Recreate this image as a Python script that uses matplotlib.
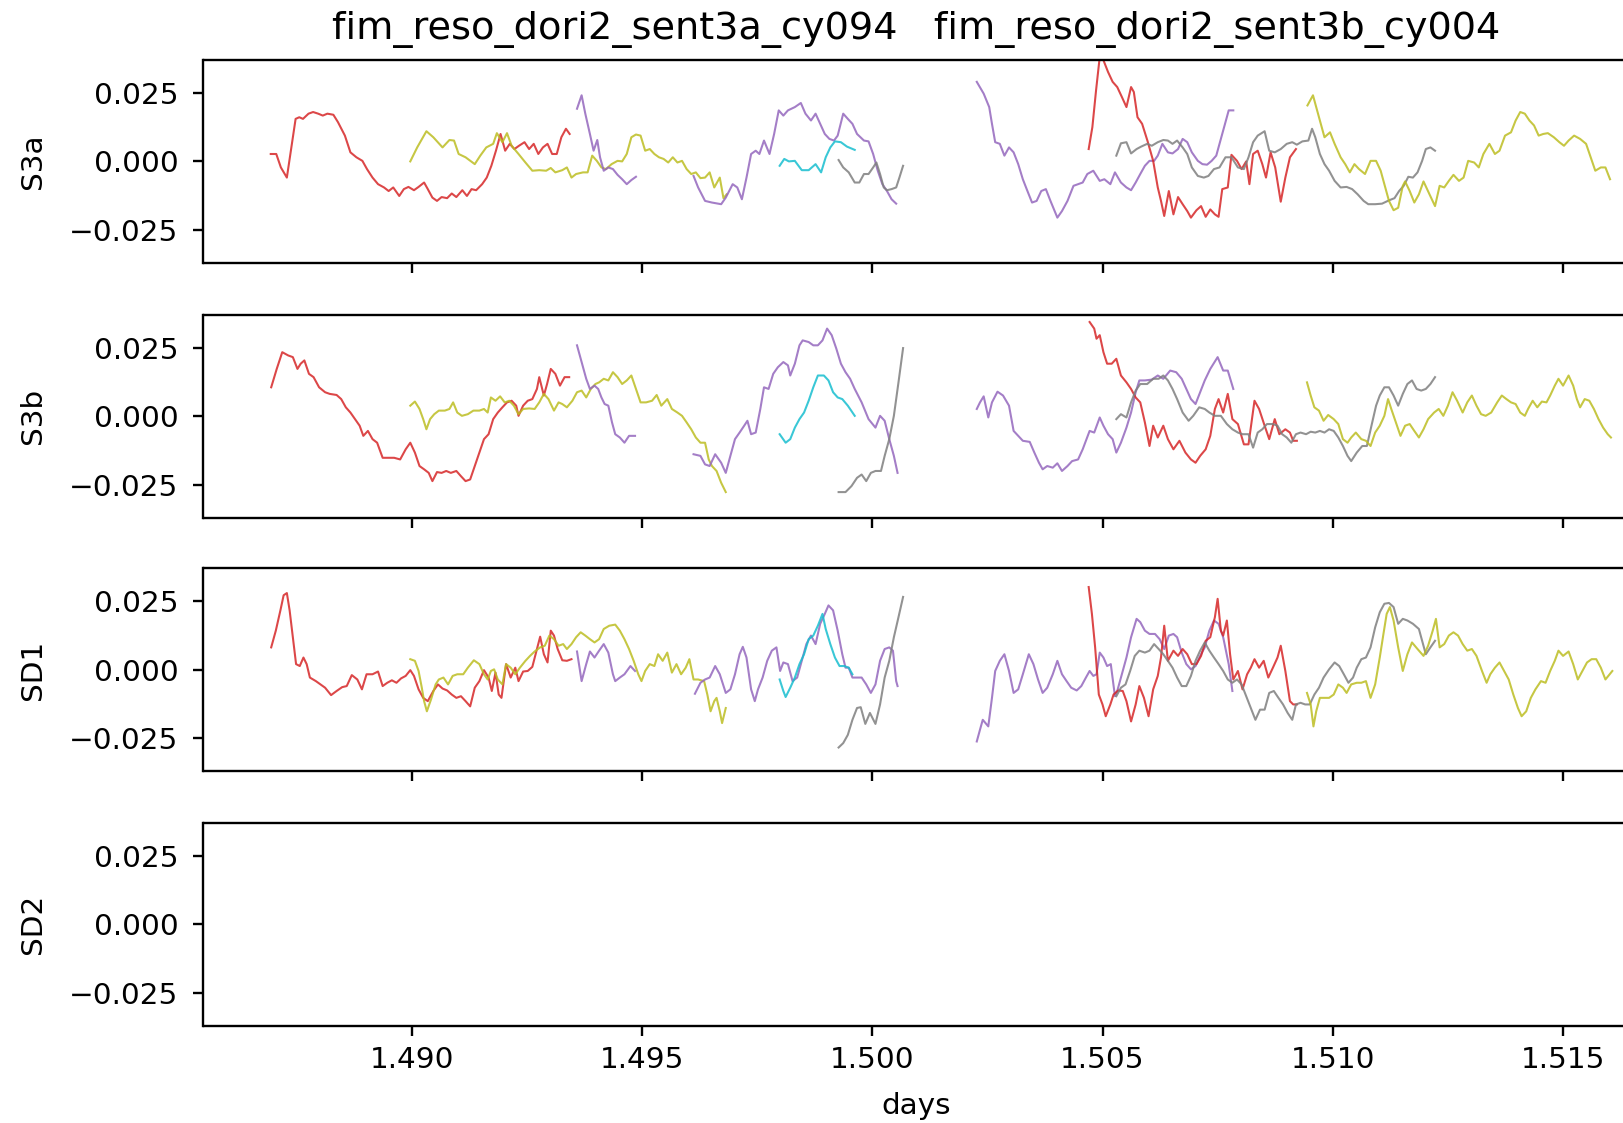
import matplotlib
matplotlib.use("Agg")
import matplotlib.pyplot as plt
import numpy as np

# ---------------- data (x in days, y in units of 1e-3) ----------------
TITLE = "fim_reso_dori2_sent3a_cy094   fim_reso_dori2_sent3b_cy004"
PANEL_LABELS = ["S3a", "S3b", "SD1", "SD2"]
XTICKS = [1.490, 1.495, 1.500, 1.505, 1.510, 1.515]
YTICKS = [-0.025, 0.0, 0.025]

# ---- S3a ----
S3A_RED1 = [(1.48694, 2.7), (1.48706, 2.7), (1.48716, -2.2), (1.48729, -5.9), (1.48741, 7.6), (1.48748, 15.5),
            (1.48756, 16.1), (1.48764, 15.5), (1.48776, 17.4), (1.48786, 18.0), (1.48797, 17.4), (1.48807, 16.7),
            (1.48817, 17.4), (1.48830, 17.0), (1.48840, 14.3), (1.48855, 9.4), (1.48867, 3.3), (1.48880, 1.5),
            (1.48893, 0.2), (1.48903, -2.8), (1.48915, -5.9), (1.48927, -8.3), (1.48940, -9.5), (1.48950, -10.8),
            (1.48960, -9.5), (1.48973, -12.6), (1.48983, -10.1), (1.48993, -9.3), (1.49005, -10.5), (1.49015, -9.3),
            (1.49027, -7.7), (1.49035, -10.1), (1.49045, -13.2), (1.49055, -14.4), (1.49065, -13.0), (1.49077, -13.4),
            (1.49087, -11.7), (1.49097, -13.0), (1.49110, -10.5), (1.49120, -12.6), (1.49130, -10.1), (1.49140, -10.5),
            (1.49153, -8.3), (1.49163, -5.9), (1.49173, -1.6), (1.49183, 3.9), (1.49193, 10.0), (1.49203, 3.9),
            (1.49213, 6.4), (1.49223, 4.5), (1.49233, 5.7), (1.49245, 7.0), (1.49255, 4.5), (1.49265, 6.4),
            (1.49275, 2.7), (1.49285, 5.1), (1.49295, 6.4), (1.49305, 2.7), (1.49315, 2.7), (1.49325, 8.8),
            (1.49335, 11.9), (1.49343, 10.0)]
S3A_OLIVE1 = [(1.48997, 0.0), (1.49012, 5.1), (1.49032, 11.0), (1.49047, 8.8), (1.49067, 5.1), (1.49082, 7.8),
              (1.49092, 7.6), (1.49102, 2.7), (1.49117, 1.5), (1.49137, -1.0), (1.49149, 2.1), (1.49162, 5.1),
              (1.49177, 6.4), (1.49185, 10.3), (1.49197, 7.0), (1.49207, 10.3), (1.49217, 5.7), (1.49232, 2.7),
              (1.49247, -0.4), (1.49262, -3.4), (1.49277, -3.2), (1.49292, -3.4), (1.49302, -2.4), (1.49312, -4.0),
              (1.49327, -3.2), (1.49337, -2.2), (1.49347, -5.9), (1.49357, -4.6), (1.49372, -4.0), (1.49382, -4.0),
              (1.49392, 2.1), (1.49402, 0.2), (1.49412, -2.2), (1.49422, -2.8), (1.49434, -1.0), (1.49447, 0.2),
              (1.49457, 0.0), (1.49467, 2.7), (1.49477, 8.8), (1.49487, 9.8), (1.49497, 9.4), (1.49507, 3.9),
              (1.49517, 4.5), (1.49527, 2.7), (1.49537, 1.5), (1.49547, 0.9), (1.49557, -0.4), (1.49567, 1.5),
              (1.49577, -0.4), (1.49587, 0.2), (1.49597, -2.8), (1.49607, -4.6), (1.49617, -4.0), (1.49627, -6.1),
              (1.49637, -5.9), (1.49647, -4.0), (1.49657, -9.5), (1.49669, -5.9), (1.49677, -13.4), (1.49684, -12.0)]
S3A_PURPLE1 = [(1.49359, 19.2), (1.49369, 24.1), (1.49377, 17.4), (1.49387, 10.0), (1.49395, 3.9), (1.49403, 7.8),
               (1.49409, 1.5), (1.49417, -3.4), (1.49427, -2.2), (1.49437, -2.8), (1.49447, -4.9), (1.49457, -6.5),
               (1.49467, -8.3), (1.49477, -6.8), (1.49487, -5.6)]
S3A_PURPLE2 = [(1.49612, -5.3), (1.49622, -9.5), (1.49637, -14.4), (1.49652, -15.0), (1.49672, -15.6),
               (1.49682, -13.2), (1.49697, -8.3), (1.49707, -9.5), (1.49717, -13.8), (1.49727, -5.9),
               (1.49737, 2.7), (1.49747, 3.9), (1.49755, 2.7), (1.49765, 7.6), (1.49777, 2.7), (1.49787, 10.0),
               (1.49797, 18.6), (1.49807, 16.7), (1.49817, 18.6), (1.49832, 19.8), (1.49845, 21.3), (1.49855, 17.4),
               (1.49867, 14.9), (1.49877, 17.4), (1.49887, 13.7), (1.49897, 10.0), (1.49907, 8.2), (1.49917, 7.6),
               (1.49925, 9.4), (1.49937, 17.4), (1.49947, 15.5), (1.49957, 13.7), (1.49967, 10.0), (1.49982, 7.6),
               (1.49992, 7.3), (1.50002, 2.7), (1.50012, -3.4), (1.50022, -8.3), (1.50032, -10.8), (1.50042, -13.8),
               (1.50052, -15.4)]
S3A_CYAN = [(1.49799, -1.6), (1.49809, 0.9), (1.49819, 0.0), (1.49832, 0.2), (1.49847, -3.2), (1.49862, -3.2),
            (1.49877, -1.0), (1.49889, -4.0), (1.49899, 1.5), (1.49909, 5.1), (1.49919, 7.3), (1.49932, 7.0),
            (1.49945, 5.4), (1.49962, 4.2)]
S3A_GRAY1 = [(1.49927, 0.5), (1.49937, -2.2), (1.49949, -4.0), (1.49962, -7.7), (1.49972, -7.7), (1.49982, -4.6),
             (1.49992, -4.6), (1.50002, -2.2), (1.50009, -0.4), (1.50017, -4.6), (1.50025, -9.5), (1.50032, -10.5),
             (1.50042, -10.1), (1.50052, -9.5), (1.50059, -5.9), (1.50067, -1.6)]
S3A_PURPLE3 = [(1.50227, 29.0), (1.50242, 24.7), (1.50254, 19.8), (1.50260, 13.7), (1.50267, 7.0), (1.50277, 6.4),
               (1.50287, 2.1), (1.50297, 5.1), (1.50307, 3.3), (1.50317, -1.0), (1.50327, -6.5), (1.50337, -10.8),
               (1.50347, -15.0), (1.50357, -14.4), (1.50367, -10.8), (1.50377, -10.1), (1.50387, -14.4),
               (1.50402, -20.5), (1.50412, -18.1), (1.50424, -14.4), (1.50437, -8.9), (1.50447, -8.3),
               (1.50457, -7.7), (1.50467, -4.6), (1.50480, -3.4), (1.50494, -7.1), (1.50504, -6.5), (1.50517, -8.3),
               (1.50527, -4.0), (1.50540, -7.7), (1.50552, -9.5), (1.50562, -10.5), (1.50572, -7.7), (1.50582, -4.6),
               (1.50592, -1.6), (1.50602, 0.2), (1.50612, 0.2), (1.50620, 2.1), (1.50630, 6.4), (1.50642, 3.3),
               (1.50652, 2.9), (1.50664, 4.5), (1.50674, 8.2), (1.50684, 7.0), (1.50694, 3.3), (1.50707, 0.2),
               (1.50717, -1.0), (1.50727, -1.2), (1.50737, 0.2), (1.50747, 2.1), (1.50757, 8.2), (1.50767, 14.3),
               (1.50774, 18.6), (1.50784, 18.6)]
S3A_RED2 = [(1.50470, 4.5), (1.50478, 12.5), (1.50486, 25.9), (1.50494, 38.1), (1.50502, 36.9), (1.50512, 32.6),
            (1.50522, 29.0), (1.50532, 27.1), (1.50542, 23.5), (1.50552, 19.8), (1.50562, 27.1), (1.50568, 25.3),
            (1.50576, 16.1), (1.50586, 13.7), (1.50598, 7.3), (1.50610, 0.2), (1.50620, -9.5), (1.50627, -14.4),
            (1.50634, -19.9), (1.50644, -10.8), (1.50654, -19.3), (1.50664, -13.0), (1.50674, -15.6),
            (1.50684, -18.1), (1.50692, -20.5), (1.50704, -17.8), (1.50714, -16.3), (1.50724, -20.2),
            (1.50734, -17.5), (1.50744, -19.3), (1.50752, -20.2), (1.50760, -10.1), (1.50772, -9.5), (1.50780, 2.4),
            (1.50792, 0.2), (1.50802, -2.8), (1.50812, 0.0), (1.50819, -8.3), (1.50827, 2.7), (1.50837, 3.9),
            (1.50847, -1.0), (1.50855, -5.9), (1.50865, 3.3), (1.50875, -2.2), (1.50887, -14.7), (1.50897, -5.9),
            (1.50907, 1.5), (1.50920, 4.5)]
S3A_GRAY2 = [(1.50530, 2.1), (1.50540, 6.6), (1.50552, 7.0), (1.50562, 2.9), (1.50574, 4.5), (1.50584, 5.4),
             (1.50597, 6.4), (1.50607, 5.7), (1.50620, 7.0), (1.50632, 7.8), (1.50642, 7.6), (1.50652, 6.4),
             (1.50662, 7.6), (1.50674, 5.1), (1.50684, 2.7), (1.50694, -2.2), (1.50707, -5.3), (1.50720, -5.9),
             (1.50730, -5.3), (1.50742, -2.8), (1.50754, -2.2), (1.50767, 1.5), (1.50780, 1.5), (1.50794, -2.2),
             (1.50807, -2.8), (1.50817, 1.5), (1.50827, 7.0), (1.50837, 9.4), (1.50852, 11.0), (1.50862, 3.9),
             (1.50874, 3.3), (1.50887, 4.5), (1.50900, 6.4), (1.50912, 7.0), (1.50922, 6.1), (1.50934, 7.3),
             (1.50947, 7.6), (1.50955, 11.9), (1.50962, 8.8), (1.50972, 2.7), (1.50982, -1.0), (1.50992, -3.4),
             (1.51004, -7.1), (1.51017, -9.5), (1.51030, -9.3), (1.51042, -10.1), (1.51054, -12.0),
             (1.51067, -14.4), (1.51077, -15.6), (1.51092, -15.6), (1.51107, -15.4), (1.51122, -14.2),
             (1.51134, -13.4), (1.51144, -10.8), (1.51154, -8.9), (1.51164, -5.6), (1.51174, -5.9), (1.51184, -4.0),
             (1.51194, 0.2), (1.51202, 4.5), (1.51212, 5.1), (1.51222, 3.9)]
S3A_OLIVE2 = [(1.50945, 20.4), (1.50957, 24.1), (1.50964, 19.8), (1.50972, 14.9), (1.50982, 8.8), (1.50994, 10.6),
              (1.51004, 6.4), (1.51017, 1.5), (1.51027, -1.0), (1.51037, -4.0), (1.51047, -1.0), (1.51057, -2.8),
              (1.51070, -4.6), (1.51082, 0.2), (1.51094, 0.2), (1.51104, -3.4), (1.51112, -8.3), (1.51122, -14.4),
              (1.51132, -17.8), (1.51142, -16.9), (1.51152, -8.9), (1.51157, -7.3), (1.51167, -10.8),
              (1.51177, -15.0), (1.51187, -12.0), (1.51197, -7.3), (1.51210, -12.0), (1.51222, -16.3),
              (1.51232, -8.9), (1.51242, -9.5), (1.51252, -7.1), (1.51262, -4.9), (1.51274, -7.1), (1.51284, -5.9),
              (1.51294, 0.2), (1.51307, -0.4), (1.51317, -2.2), (1.51327, 2.7), (1.51340, 6.4), (1.51352, 2.7),
              (1.51362, 3.9), (1.51374, 9.4), (1.51387, 10.6), (1.51397, 14.9), (1.51407, 18.0), (1.51417, 17.4),
              (1.51427, 14.9), (1.51437, 13.1), (1.51447, 9.4), (1.51457, 10.0), (1.51467, 10.3), (1.51480, 8.8),
              (1.51492, 7.0), (1.51502, 5.7), (1.51512, 7.6), (1.51524, 9.4), (1.51537, 8.2), (1.51550, 6.4),
              (1.51560, 1.5), (1.51570, -3.4), (1.51582, -2.2), (1.51592, -2.2), (1.51602, -6.5)]

# ---- S3b ----
S3B_RED1 = [(1.48695, 10.5), (1.48707, 17.2), (1.48719, 23.3), (1.48732, 22.1), (1.48742, 21.5), (1.48752, 17.2),
            (1.48759, 19.1), (1.48767, 20.3), (1.48777, 15.4), (1.48787, 14.2), (1.48799, 10.5), (1.48812, 8.7),
            (1.48822, 8.1), (1.48837, 7.7), (1.48847, 6.2), (1.48857, 3.2), (1.48867, 1.3), (1.48877, -1.1),
            (1.48887, -3.5), (1.48895, -7.2), (1.48905, -5.4), (1.48915, -8.4), (1.48925, -9.7), (1.48937, -15.2),
            (1.48949, -15.2), (1.48962, -15.2), (1.48975, -15.8), (1.48987, -12.1), (1.48997, -9.7),
            (1.49007, -13.3), (1.49017, -18.2), (1.49027, -19.4), (1.49037, -20.7), (1.49045, -23.7),
            (1.49055, -20.4), (1.49065, -20.7), (1.49075, -20.0), (1.49085, -20.7), (1.49097, -20.0),
            (1.49107, -21.9), (1.49117, -23.7), (1.49127, -23.1), (1.49137, -18.2), (1.49147, -13.3),
            (1.49157, -8.4), (1.49167, -6.6), (1.49177, -1.1), (1.49187, 1.3), (1.49197, 3.2), (1.49207, 5.0),
            (1.49217, 5.6), (1.49227, 3.8), (1.49232, 0.1), (1.49242, 3.8), (1.49252, 5.6), (1.49262, 6.2),
            (1.49272, 9.9), (1.49277, 14.2), (1.49287, 7.5), (1.49294, 11.7), (1.49302, 17.2), (1.49312, 15.4),
            (1.49322, 11.1), (1.49332, 14.2), (1.49342, 14.2)]
S3B_OLIVE1 = [(1.48997, 3.8), (1.49007, 5.3), (1.49017, 2.6), (1.49025, -1.1), (1.49032, -4.8), (1.49040, -1.1),
              (1.49049, 0.7), (1.49059, 2.0), (1.49072, 2.0), (1.49082, 2.6), (1.49090, 5.0), (1.49099, 1.3),
              (1.49109, 0.1), (1.49122, 0.7), (1.49134, 2.0), (1.49147, 2.0), (1.49157, 2.6), (1.49165, 1.3),
              (1.49172, 6.8), (1.49182, 5.6), (1.49192, 7.2), (1.49202, 5.0), (1.49212, 5.6), (1.49222, 3.8),
              (1.49232, 0.7), (1.49242, 2.6), (1.49255, 2.8), (1.49267, 2.6), (1.49277, 5.0), (1.49287, 8.1),
              (1.49297, 6.2), (1.49309, 2.0), (1.49319, 5.0), (1.49327, 4.4), (1.49337, 3.2), (1.49349, 5.6),
              (1.49359, 8.7), (1.49369, 9.3), (1.49379, 6.8), (1.49389, 9.9), (1.49399, 11.7), (1.49407, 12.3),
              (1.49417, 13.6), (1.49427, 13.0), (1.49437, 16.0), (1.49447, 14.2), (1.49457, 11.7), (1.49467, 13.0),
              (1.49477, 14.8), (1.49487, 9.9), (1.49497, 5.0), (1.49509, 5.0), (1.49522, 5.6), (1.49532, 7.7),
              (1.49542, 3.8), (1.49555, 6.2), (1.49565, 2.6), (1.49577, 1.3), (1.49587, 0.1), (1.49597, -2.3),
              (1.49607, -4.8), (1.49617, -7.8), (1.49627, -9.7), (1.49637, -9.7), (1.49645, -15.8),
              (1.49652, -18.2), (1.49662, -20.0), (1.49672, -24.3), (1.49682, -27.7)]
S3B_PURPLE1 = [(1.49359, 25.8), (1.49369, 19.7), (1.49379, 13.6), (1.49387, 9.9), (1.49397, 11.1), (1.49405, 9.9),
               (1.49412, 6.8), (1.49419, 4.4), (1.49427, 3.8), (1.49435, -2.3), (1.49442, -6.6), (1.49452, -7.8),
               (1.49462, -9.7), (1.49472, -7.2), (1.49485, -7.2)]
S3B_PURPLE2 = [(1.49612, -13.9), (1.49627, -14.5), (1.49637, -17.6), (1.49647, -18.2), (1.49659, -13.9),
               (1.49672, -17.0), (1.49682, -20.7), (1.49692, -14.5), (1.49702, -8.4), (1.49712, -6.0),
               (1.49722, -3.5), (1.49729, -1.7), (1.49737, -6.6), (1.49747, -6.0), (1.49757, 2.6), (1.49765, 10.5),
               (1.49775, 9.9), (1.49785, 15.4), (1.49795, 17.8), (1.49807, 19.7), (1.49817, 18.5), (1.49822, 14.8),
               (1.49832, 19.1), (1.49842, 25.8), (1.49849, 27.6), (1.49862, 27.0), (1.49872, 25.8), (1.49882, 25.8),
               (1.49892, 27.6), (1.49902, 31.9), (1.49912, 29.5), (1.49922, 24.6), (1.49932, 19.1), (1.49942, 16.0),
               (1.49952, 13.6), (1.49962, 9.9), (1.49977, 5.0), (1.49992, -1.1), (1.50007, -4.2), (1.50017, 0.1),
               (1.50027, -1.7), (1.50037, -8.4), (1.50047, -14.5), (1.50055, -20.7)]
S3B_CYAN = [(1.49799, -6.6), (1.49812, -9.7), (1.49822, -8.4), (1.49832, -4.2), (1.49842, -1.1), (1.49852, 1.3),
            (1.49862, 5.6), (1.49872, 10.5), (1.49882, 14.8), (1.49895, 14.8), (1.49905, 13.0), (1.49915, 8.7),
            (1.49925, 6.8), (1.49935, 6.2), (1.49947, 3.8), (1.49962, 0.1)]
S3B_GRAY1 = [(1.49927, -27.7), (1.49942, -27.7), (1.49955, -25.5), (1.49967, -22.5), (1.49977, -21.3),
             (1.49987, -23.7), (1.49997, -20.7), (1.50007, -20.0), (1.50019, -20.0), (1.50027, -14.5),
             (1.50037, -8.4), (1.50047, 0.1), (1.50057, 12.3), (1.50067, 24.8)]
S3B_PURPLE3 = [(1.50227, 2.6), (1.50234, 5.0), (1.50242, 7.2), (1.50252, -0.5), (1.50260, 5.0), (1.50272, 8.9),
               (1.50284, 7.5), (1.50297, 3.8), (1.50307, -5.4), (1.50317, -7.2), (1.50327, -9.0), (1.50342, -9.4),
               (1.50352, -13.3), (1.50362, -17.0), (1.50370, -19.4), (1.50380, -18.2), (1.50392, -18.8),
               (1.50402, -17.2), (1.50412, -20.0), (1.50424, -18.2), (1.50434, -16.4), (1.50447, -15.8),
               (1.50457, -12.1), (1.50472, -5.4), (1.50482, -6.0), (1.50494, -0.5), (1.50502, -3.5), (1.50512, -6.6),
               (1.50522, -8.4), (1.50530, -13.3), (1.50540, -9.7), (1.50552, -4.2), (1.50562, 1.3), (1.50572, 8.7),
               (1.50580, 13.0), (1.50592, 13.0), (1.50607, 13.3), (1.50620, 14.8), (1.50632, 13.6), (1.50647, 16.6),
               (1.50660, 16.0), (1.50672, 13.6), (1.50682, 9.9), (1.50692, 6.2), (1.50702, 4.4), (1.50712, 8.7),
               (1.50722, 13.0), (1.50734, 17.2), (1.50750, 21.5), (1.50762, 16.6), (1.50772, 16.6), (1.50784, 9.9)]
S3B_RED2 = [(1.50472, 34.3), (1.50482, 31.9), (1.50487, 28.2), (1.50494, 29.5), (1.50502, 23.3), (1.50510, 19.1),
            (1.50520, 19.1), (1.50530, 20.9), (1.50540, 14.8), (1.50552, 12.3), (1.50562, 9.9), (1.50572, 6.8),
            (1.50582, 5.0), (1.50592, -2.3), (1.50602, -10.9), (1.50610, -3.5), (1.50620, -7.8), (1.50632, -3.5),
            (1.50642, -8.4), (1.50654, -12.1), (1.50667, -9.0), (1.50680, -13.3), (1.50692, -15.8),
            (1.50702, -17.0), (1.50712, -14.5), (1.50724, -12.1), (1.50734, -7.2), (1.50744, 2.6), (1.50752, 6.2),
            (1.50762, 1.3), (1.50772, 8.1), (1.50782, -1.1), (1.50794, -2.9), (1.50807, -10.3), (1.50817, -10.3),
            (1.50830, 5.6), (1.50840, 2.6), (1.50852, -3.5), (1.50862, -8.4), (1.50874, -1.1), (1.50884, -6.6),
            (1.50897, -4.8), (1.50907, -6.0), (1.50914, -9.0), (1.50922, -9.0)]
S3B_GRAY2 = [(1.50530, -1.1), (1.50540, 0.7), (1.50552, -0.5), (1.50562, 5.0), (1.50572, 9.3), (1.50582, 11.7),
             (1.50597, 11.7), (1.50610, 13.6), (1.50622, 13.6), (1.50632, 14.8), (1.50642, 13.0), (1.50652, 9.9),
             (1.50662, 6.2), (1.50674, 1.3), (1.50687, -1.7), (1.50697, 0.1), (1.50710, 3.2), (1.50722, 2.6),
             (1.50732, 1.3), (1.50744, 0.1), (1.50757, 0.1), (1.50770, -2.9), (1.50782, -4.8), (1.50794, -6.0),
             (1.50804, -6.6), (1.50817, -6.6), (1.50827, -11.5), (1.50837, -6.0), (1.50847, -4.8), (1.50857, -2.9),
             (1.50870, -2.9), (1.50880, -3.5), (1.50890, -6.6), (1.50900, -7.8), (1.50910, -9.7), (1.50920, -6.6),
             (1.50930, -6.0), (1.50942, -6.6), (1.50952, -5.7), (1.50962, -6.0), (1.50972, -5.4), (1.50982, -6.0),
             (1.50992, -4.8), (1.51002, -5.4), (1.51012, -7.8), (1.51022, -10.9), (1.51032, -14.5),
             (1.51040, -16.4), (1.51052, -13.3), (1.51064, -10.9), (1.51074, -10.9), (1.51084, -3.5),
             (1.51094, 3.8), (1.51102, 7.5), (1.51112, 10.5), (1.51122, 10.5), (1.51132, 7.5), (1.51142, 3.8),
             (1.51152, 8.1), (1.51162, 11.7), (1.51172, 13.0), (1.51182, 9.9), (1.51192, 9.3), (1.51202, 9.9),
             (1.51212, 11.7), (1.51222, 14.2)]
S3B_OLIVE2 = [(1.50944, 12.3), (1.50952, 7.5), (1.50960, 3.2), (1.50970, 2.0), (1.50980, -1.7), (1.50990, 0.4),
              (1.51002, -1.1), (1.51012, -2.9), (1.51022, -8.4), (1.51032, -9.7), (1.51040, -7.8), (1.51050, -6.0),
              (1.51062, -8.4), (1.51072, -9.0), (1.51082, -10.9), (1.51092, -6.0), (1.51102, -3.5), (1.51112, 0.1),
              (1.51120, 6.2), (1.51127, 2.6), (1.51137, -2.3), (1.51147, -7.2), (1.51157, -3.5), (1.51167, -2.9),
              (1.51177, -5.4), (1.51187, -7.8), (1.51197, -4.8), (1.51207, -1.1), (1.51220, 1.3), (1.51230, 2.6),
              (1.51240, 0.1), (1.51250, 3.8), (1.51260, 8.7), (1.51270, 5.6), (1.51282, 1.3), (1.51292, 5.0),
              (1.51302, 7.5), (1.51312, 3.8), (1.51322, 0.7), (1.51332, 0.1), (1.51344, 1.3), (1.51357, 5.0),
              (1.51367, 7.5), (1.51377, 6.2), (1.51387, 5.0), (1.51397, 4.4), (1.51407, 1.3), (1.51417, 0.1),
              (1.51424, 2.6), (1.51434, 5.6), (1.51444, 3.2), (1.51454, 5.3), (1.51464, 5.0), (1.51472, 7.5),
              (1.51482, 11.1), (1.51490, 13.6), (1.51500, 11.1), (1.51512, 14.8), (1.51522, 11.1), (1.51530, 6.2),
              (1.51537, 3.2), (1.51547, 6.2), (1.51557, 5.6), (1.51567, 2.6), (1.51577, -1.1), (1.51587, -4.2),
              (1.51597, -6.6), (1.51604, -7.8)]

# ---- SD1 ----
SD1_RED1 = [(1.48695, 8.1), (1.48705, 14.2), (1.48715, 21.6), (1.48722, 27.1), (1.48729, 27.9), (1.48735, 21.6),
            (1.48742, 11.8), (1.48749, 2.0), (1.48757, 1.3), (1.48765, 4.4), (1.48772, 2.0), (1.48779, -2.9),
            (1.48792, -4.2), (1.48802, -5.4), (1.48812, -6.6), (1.48825, -9.3), (1.48837, -7.8), (1.48849, -6.4),
            (1.48859, -6.0), (1.48870, -2.0), (1.48882, -3.6), (1.48892, -7.2), (1.48902, -1.7), (1.48915, -1.7),
            (1.48927, -0.7), (1.48937, -6.0), (1.48947, -4.8), (1.48957, -3.9), (1.48967, -4.8), (1.48977, -3.2),
            (1.48987, -2.3), (1.48997, -0.2), (1.49005, -2.3), (1.49015, -7.2), (1.49025, -10.3), (1.49035, -11.5),
            (1.49047, -7.8), (1.49057, -5.4), (1.49067, -6.9), (1.49077, -7.6), (1.49087, -9.1), (1.49097, -10.3),
            (1.49107, -9.7), (1.49117, -11.5), (1.49127, -13.4), (1.49137, -6.6), (1.49147, -4.2), (1.49157, -0.2),
            (1.49167, -2.9), (1.49174, -7.8), (1.49182, -1.1), (1.49189, -9.1), (1.49195, -10.3), (1.49205, 2.0),
            (1.49215, -2.9), (1.49225, 0.7), (1.49232, -4.2), (1.49242, -0.7), (1.49252, -0.5), (1.49262, 1.0),
            (1.49272, 7.5), (1.49279, 12.0), (1.49287, 5.6), (1.49295, 2.6), (1.49302, 14.2), (1.49309, 12.4),
            (1.49317, 7.5), (1.49327, 3.4), (1.49337, 3.2), (1.49347, 3.8)]
SD1_OLIVE1 = [(1.48997, 3.8), (1.49007, 3.2), (1.49015, -0.5), (1.49022, -6.6), (1.49027, -11.5), (1.49033, -15.2),
              (1.49042, -10.9), (1.49052, -5.4), (1.49059, -3.6), (1.49069, -2.9), (1.49079, -5.4), (1.49089, -2.3),
              (1.49099, -1.7), (1.49112, -1.7), (1.49122, 0.7), (1.49135, 3.4), (1.49147, 2.0), (1.49157, -1.7),
              (1.49165, -3.6), (1.49172, -0.5), (1.49179, 0.1), (1.49187, -3.6), (1.49197, -5.4), (1.49205, 2.0),
              (1.49215, 0.7), (1.49225, -1.7), (1.49235, 0.7), (1.49247, 3.2), (1.49257, 5.0), (1.49267, 6.6),
              (1.49279, 8.1), (1.49289, 8.7), (1.49299, 12.4), (1.49309, 11.1), (1.49319, 8.7), (1.49329, 9.3),
              (1.49337, 7.5), (1.49347, 9.3), (1.49357, 11.8), (1.49367, 13.6), (1.49377, 12.4), (1.49387, 11.1),
              (1.49397, 9.9), (1.49407, 11.1), (1.49417, 14.8), (1.49429, 16.0), (1.49442, 16.4), (1.49452, 14.2),
              (1.49462, 11.1), (1.49472, 7.5), (1.49482, 3.2), (1.49492, -1.7), (1.49499, -4.2), (1.49507, -0.5),
              (1.49517, 2.0), (1.49527, 1.3), (1.49535, 5.6), (1.49545, 3.2), (1.49555, 6.2), (1.49565, -1.1),
              (1.49575, 2.0), (1.49585, -1.7), (1.49595, 0.7), (1.49603, 3.8), (1.49612, -3.6), (1.49622, -3.6),
              (1.49635, -4.2), (1.49642, -9.1), (1.49649, -15.2), (1.49657, -11.5), (1.49662, -10.3),
              (1.49669, -15.2), (1.49674, -19.5), (1.49682, -14.0)]
SD1_PURPLE1 = [(1.49359, 6.6), (1.49369, -4.2), (1.49379, 2.0), (1.49387, 6.6), (1.49397, 4.4), (1.49407, 6.9),
               (1.49417, 9.3), (1.49427, 6.2), (1.49437, -1.7), (1.49442, -4.2), (1.49452, -2.9), (1.49462, -1.7),
               (1.49475, 1.3), (1.49485, -0.5)]
SD1_PURPLE2 = [(1.49615, -8.8), (1.49627, -4.8), (1.49637, -3.6), (1.49647, -2.9), (1.49659, 1.3), (1.49669, -1.7),
               (1.49682, -8.5), (1.49692, -7.2), (1.49702, -1.7), (1.49712, 5.6), (1.49719, 8.3), (1.49727, 4.4),
               (1.49737, -7.2), (1.49745, -11.5), (1.49752, -7.2), (1.49762, -2.9), (1.49772, 3.2), (1.49782, 6.9),
               (1.49792, 8.1), (1.49800, -0.5), (1.49807, 2.6), (1.49817, 2.0), (1.49827, -4.2), (1.49837, -2.9),
               (1.49847, 3.2), (1.49857, 9.3), (1.49867, 12.4), (1.49877, 9.3), (1.49887, 16.7), (1.49897, 20.3),
               (1.49905, 23.4), (1.49915, 21.6), (1.49925, 14.2), (1.49935, 5.6), (1.49942, 0.7), (1.49949, 0.7),
               (1.49957, -2.9), (1.49967, -2.9), (1.49977, -2.9), (1.49987, -5.4), (1.49997, -8.5), (1.50007, -5.4),
               (1.50017, 3.2), (1.50027, 7.5), (1.50037, 8.1), (1.50045, 6.9), (1.50052, -4.2), (1.50055, -6.0)]
SD1_CYAN = [(1.49799, -3.6), (1.49807, -7.8), (1.49812, -10.0), (1.49822, -6.6), (1.49832, -2.9), (1.49842, 2.0),
            (1.49852, 5.6), (1.49862, 11.1), (1.49872, 12.4), (1.49882, 16.0), (1.49892, 20.3), (1.49899, 14.8),
            (1.49909, 9.3), (1.49919, 4.4), (1.49929, 1.3), (1.49939, 1.3), (1.49949, 0.7), (1.49957, -1.7)]
SD1_GRAY1 = [(1.49927, -28.4), (1.49937, -26.8), (1.49947, -23.8), (1.49957, -18.3), (1.49967, -14.0),
             (1.49975, -13.7), (1.49985, -19.8), (1.49995, -15.8), (1.50007, -19.8), (1.50017, -12.7),
             (1.50027, -2.9), (1.50037, 3.2), (1.50047, 11.8), (1.50057, 19.1), (1.50067, 26.5)]
SD1_PURPLE3 = [(1.50227, -26.2), (1.50234, -21.9), (1.50240, -18.3), (1.50252, -20.7), (1.50260, -10.3),
               (1.50267, -0.5), (1.50277, 3.2), (1.50287, 5.6), (1.50297, -0.5), (1.50307, -8.5), (1.50317, -7.2),
               (1.50327, -1.7), (1.50340, 5.6), (1.50350, 2.0), (1.50360, -3.6), (1.50370, -8.5), (1.50380, -6.6),
               (1.50392, -1.7), (1.50402, 3.2), (1.50412, -1.7), (1.50422, -4.2), (1.50432, -6.6), (1.50444, -7.6),
               (1.50454, -6.0), (1.50464, -2.9), (1.50472, -0.5), (1.50480, -2.3), (1.50487, -1.7), (1.50494, 6.2),
               (1.50502, 4.4), (1.50510, 1.3), (1.50518, 2.0), (1.50527, -9.7), (1.50532, -7.8), (1.50542, -1.7),
               (1.50552, 4.4), (1.50562, 11.8), (1.50574, 18.5), (1.50582, 17.3), (1.50592, 14.2), (1.50602, 13.0),
               (1.50614, 13.0), (1.50624, 11.1), (1.50634, 7.5), (1.50644, 12.4), (1.50654, 13.0), (1.50662, 11.8),
               (1.50672, 6.2), (1.50682, 2.0), (1.50692, 0.1), (1.50702, 1.3), (1.50712, 5.0), (1.50722, 8.1),
               (1.50732, 14.2), (1.50742, 17.9), (1.50752, 16.7), (1.50762, 11.8), (1.50774, 2.0), (1.50782, -7.8)]
SD1_RED2 = [(1.50470, 30.1), (1.50477, 20.3), (1.50484, 8.1), (1.50492, -9.1), (1.50500, -12.7), (1.50507, -17.0),
            (1.50517, -12.7), (1.50524, -9.1), (1.50534, -7.6), (1.50544, -7.8), (1.50552, -11.5), (1.50562, -18.9),
            (1.50572, -12.7), (1.50580, -6.0), (1.50590, -10.3), (1.50600, -17.0), (1.50610, -7.2), (1.50620, -2.3),
            (1.50627, 4.4), (1.50634, 16.0), (1.50642, 3.2), (1.50654, 6.9), (1.50664, 5.0), (1.50674, 7.5),
            (1.50684, 5.6), (1.50694, 2.0), (1.50704, 2.0), (1.50714, 5.0), (1.50724, 10.5), (1.50734, 11.8),
            (1.50744, 19.1), (1.50750, 25.8), (1.50757, 14.2), (1.50762, 12.4), (1.50770, 17.9), (1.50777, 5.6),
            (1.50784, -3.6), (1.50794, -0.5), (1.50804, -7.2), (1.50814, -1.7), (1.50822, 0.7), (1.50830, 3.8),
            (1.50840, 0.7), (1.50850, 3.2), (1.50860, -2.9), (1.50870, 0.7), (1.50880, 4.4), (1.50887, 8.7),
            (1.50897, -0.5), (1.50907, -11.5), (1.50914, -12.7), (1.50922, -12.7)]
SD1_GRAY2 = [(1.50530, -9.7), (1.50540, -6.6), (1.50550, -5.4), (1.50560, -0.5), (1.50570, 5.0), (1.50580, 6.9),
             (1.50592, 6.2), (1.50602, 6.9), (1.50612, 9.3), (1.50622, 7.5), (1.50632, 5.6), (1.50642, 3.2),
             (1.50652, 0.7), (1.50662, -2.9), (1.50672, -6.0), (1.50682, -6.0), (1.50692, -2.3), (1.50702, 3.2),
             (1.50712, 6.9), (1.50722, 9.9), (1.50732, 6.9), (1.50742, 4.4), (1.50752, 2.0), (1.50762, -0.5),
             (1.50772, -3.6), (1.50782, -4.8), (1.50792, -3.6), (1.50802, -5.4), (1.50812, -9.7), (1.50822, -14.0),
             (1.50832, -18.3), (1.50842, -14.6), (1.50852, -14.6), (1.50862, -8.5), (1.50872, -7.8),
             (1.50882, -10.3), (1.50892, -12.7), (1.50902, -15.8), (1.50912, -18.3), (1.50920, -12.7),
             (1.50930, -12.1), (1.50940, -12.7), (1.50950, -12.7), (1.50960, -9.1), (1.50970, -6.6), (1.50980, -2.9),
             (1.50992, 0.1), (1.51004, 2.6), (1.51014, 1.3), (1.51024, -1.7), (1.51034, -4.8), (1.51044, -2.9),
             (1.51052, 0.7), (1.51062, 3.8), (1.51072, 4.4), (1.51082, 8.1), (1.51092, 15.4), (1.51102, 20.9),
             (1.51112, 24.0), (1.51122, 24.3), (1.51132, 22.8), (1.51142, 16.7), (1.51152, 18.5), (1.51162, 17.9),
             (1.51174, 16.7), (1.51187, 14.8), (1.51194, 10.5), (1.51202, 5.6), (1.51212, 8.1), (1.51222, 10.5)]
SD1_OLIVE2 = [(1.50944, -8.5), (1.50952, -12.7), (1.50958, -20.7), (1.50964, -15.2), (1.50972, -10.3),
              (1.50982, -10.3), (1.50992, -10.3), (1.51002, -9.1), (1.51012, -5.4), (1.51022, -6.6), (1.51030, -8.5),
              (1.51040, -5.4), (1.51052, -4.8), (1.51062, -4.8), (1.51072, -4.2), (1.51082, -10.3), (1.51092, -5.4),
              (1.51102, 4.4), (1.51110, 13.0), (1.51117, 20.3), (1.51124, 22.8), (1.51132, 17.9), (1.51142, 8.1),
              (1.51152, -0.5), (1.51162, 5.6), (1.51172, 9.9), (1.51184, 7.5), (1.51197, 5.0), (1.51207, 8.7),
              (1.51217, 14.2), (1.51224, 18.5), (1.51232, 8.1), (1.51242, 9.3), (1.51252, 12.4), (1.51262, 13.6),
              (1.51272, 12.4), (1.51282, 9.3), (1.51292, 6.9), (1.51302, 7.5), (1.51312, 5.0), (1.51324, -0.5),
              (1.51334, -4.8), (1.51342, -1.7), (1.51352, 0.7), (1.51362, 2.6), (1.51372, -0.5), (1.51382, -3.6),
              (1.51392, -9.1), (1.51402, -14.0), (1.51410, -17.0), (1.51420, -15.2), (1.51430, -10.3),
              (1.51440, -7.2), (1.51452, -4.2), (1.51462, -4.8), (1.51472, -0.5), (1.51482, 3.2), (1.51490, 6.9),
              (1.51500, 5.0), (1.51512, 6.6), (1.51522, 2.0), (1.51532, -3.6), (1.51542, -0.5), (1.51552, 2.6),
              (1.51562, 3.8), (1.51572, 3.8), (1.51582, 0.7), (1.51592, -3.6), (1.51607, -0.5)]

PANEL_SERIES = [
    [("tab:red", S3A_RED1), ("tab:olive", S3A_OLIVE1), ("tab:purple", S3A_PURPLE1), ("tab:purple", S3A_PURPLE2),
     ("tab:cyan", S3A_CYAN), ("tab:gray", S3A_GRAY1), ("tab:purple", S3A_PURPLE3), ("tab:red", S3A_RED2),
     ("tab:gray", S3A_GRAY2), ("tab:olive", S3A_OLIVE2)],
    [("tab:red", S3B_RED1), ("tab:olive", S3B_OLIVE1), ("tab:purple", S3B_PURPLE1), ("tab:purple", S3B_PURPLE2),
     ("tab:cyan", S3B_CYAN), ("tab:gray", S3B_GRAY1), ("tab:purple", S3B_PURPLE3), ("tab:red", S3B_RED2),
     ("tab:gray", S3B_GRAY2), ("tab:olive", S3B_OLIVE2)],
    [("tab:red", SD1_RED1), ("tab:olive", SD1_OLIVE1), ("tab:purple", SD1_PURPLE1), ("tab:purple", SD1_PURPLE2),
     ("tab:cyan", SD1_CYAN), ("tab:gray", SD1_GRAY1), ("tab:purple", SD1_PURPLE3), ("tab:red", SD1_RED2),
     ("tab:gray", SD1_GRAY2), ("tab:olive", SD1_OLIVE2)],
    [],
]

# ---------------- figure ----------------
DPI = 212
W, H = 1623, 1123
fig = plt.figure(figsize=(W / DPI, H / DPI), dpi=DPI)

left_px, right_px = 203.5, 1628.0
bottoms_px = [262.9, 517.6, 771.1, 1025.8]
height_px = 203.0
xlim = (1.48548, 1.51641)
ylim = (-0.0370, 0.0370)

axes = []
for i, lab in enumerate(PANEL_LABELS):
    ax = fig.add_axes([left_px / W, 1 - bottoms_px[i] / H, (right_px - left_px) / W, height_px / H])
    for color, pts in PANEL_SERIES[i]:
        xs = np.array([p[0] for p in pts])
        ys = np.array([p[1] for p in pts]) * 1e-3
        ax.plot(xs, ys, color=color, lw=0.7, alpha=0.85)
    ax.set_xlim(*xlim)
    ax.set_ylim(*ylim)
    ax.set_yticks(YTICKS)
    ax.set_xticks(XTICKS)
    ax.tick_params(axis="y", pad=5)
    ax.set_ylabel(lab, labelpad=7.5)
    if i < 3:
        ax.tick_params(labelbottom=False)
    axes.append(ax)

axes[0].set_title(TITLE, fontsize=13, pad=7)
axes[-1].set_xlabel("days", labelpad=6)

fig.savefig("out.png", dpi=DPI)
